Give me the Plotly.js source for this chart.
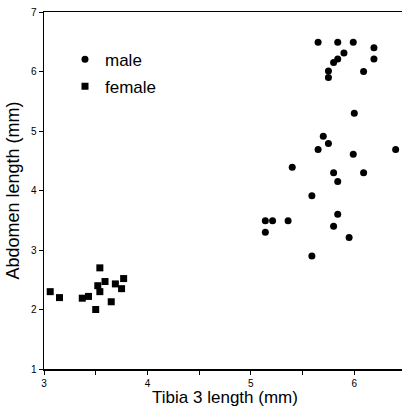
<!DOCTYPE html>
<html>
<head>
<meta charset="utf-8">
<script src="https://cdn.plot.ly/plotly-3.0.1.min.js"></script>
<style>
  html, body { margin: 0; padding: 0; overflow: hidden; background: #fff; }
  #chart { width: 406px; height: 407px; }
</style>
</head>
<body>
<div id="chart"></div>
<script>
// Male: tibia 3 length (mm) and abdomen length (mm)
const maleTibia = [5.65, 5.84, 5.99, 6.19, 6.19, 5.90, 5.84, 5.80, 5.75, 5.75, 6.09, 6.00,
                   5.70, 5.75, 5.65, 5.99, 6.40, 5.40, 5.80, 6.09, 5.84, 5.59,
                   5.14, 5.21, 5.36, 5.14, 5.84, 5.80, 5.95, 5.59];
const maleAbdomen = [6.49, 6.49, 6.49, 6.40, 6.21, 6.31, 6.21, 6.15, 6.01, 5.90, 6.00, 5.30,
                     4.91, 4.79, 4.69, 4.61, 4.69, 4.39, 4.30, 4.30, 4.15, 3.91,
                     3.49, 3.49, 3.49, 3.30, 3.60, 3.40, 3.21, 2.90];
// Female
const femaleTibia = [3.06, 3.15, 3.37, 3.43, 3.54, 3.59, 3.52, 3.54, 3.50, 3.65, 3.69, 3.75, 3.77];
const femaleAbdomen = [2.30, 2.20, 2.19, 2.22, 2.70, 2.47, 2.40, 2.30, 2.00, 2.13, 2.43, 2.35, 2.52];

const seriesNames = ['male', 'female'];
const xTickVals = [3, 4, 5, 6];
const yTickVals = [1, 2, 3, 4, 5, 6, 7];

const FONT = 'Arial, "Liberation Sans", Helvetica, sans-serif';

const traces = [
  {
    x: maleTibia, y: maleAbdomen, name: seriesNames[0],
    type: 'scatter', mode: 'markers', legendgroup: 'm',
    marker: { symbol: 'circle', size: 7, color: '#000' }
  },
  {
    x: femaleTibia, y: femaleAbdomen, name: seriesNames[1],
    type: 'scatter', mode: 'markers', legendgroup: 'f',
    marker: { symbol: 'square', size: 7, color: '#000' }
  }
];

const layout = {
  width: 406, height: 407,
  margin: { l: 44, r: 0, t: 12, b: 38, pad: 0 },
  paper_bgcolor: '#fff', plot_bgcolor: '#fff',
  font: { family: FONT, color: '#000', size: 10 },
  showlegend: true,
  legend: {
    x: 0.058, xanchor: 'left', y: 0.917, yanchor: 'top',
    font: { family: FONT, size: 17, color: '#000' },
    bgcolor: 'rgba(0,0,0,0)', borderwidth: 0,
    traceorder: 'grouped', tracegroupgap: 2
  },
  xaxis: {
    range: [3, 6.5], tickvals: xTickVals, ticktext: xTickVals.map(String),
    ticks: 'outside', ticklen: 4, tickwidth: 1, tickcolor: '#000',
    minor: { dtick: 0.5, ticks: 'outside', ticklen: 4, tickwidth: 1, tickcolor: '#000' },
    showline: true, linecolor: '#000', linewidth: 1.5, mirror: true,
    showgrid: false, zeroline: false,
    tickfont: { family: FONT, size: 10, color: '#000' },
    title: { text: 'Tibia 3 length (mm)', font: { family: FONT, size: 17, color: '#000' }, standoff: 4 }
  },
  yaxis: {
    range: [1, 7], tickvals: yTickVals, ticktext: yTickVals.map(String),
    ticks: 'outside', ticklen: 4, tickwidth: 1, tickcolor: '#000',
    showline: true, linecolor: '#000', linewidth: 1.5, mirror: true,
    showgrid: false, zeroline: false,
    tickfont: { family: FONT, size: 10, color: '#000' },
    title: { text: 'Abdomen length (mm)', font: { family: FONT, size: 18, color: '#000' }, standoff: 6 }
  }
};

Plotly.newPlot('chart', traces, layout, { displayModeBar: false, staticPlot: true });
</script>
</body>
</html>
